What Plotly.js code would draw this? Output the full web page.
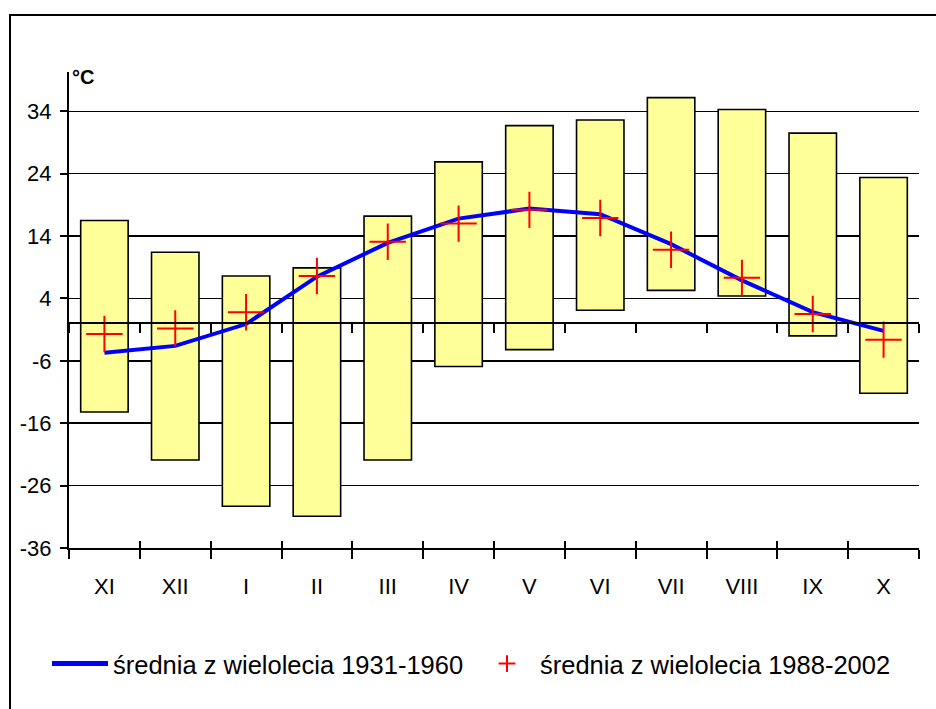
<!DOCTYPE html>
<html><head><meta charset="utf-8">
<script src="https://cdn.plot.ly/plotly-3.0.1.min.js"></script>
<style>
body{margin:0;background:#fff}
#wrap{position:relative;width:936px;height:709px;overflow:hidden}
#chart{width:936px;height:709px}
#frame{position:absolute;left:9px;top:14px;width:1000px;height:800px;border:2px solid #000;pointer-events:none;box-sizing:border-box}
</style>
</head><body>
<div id="wrap"><div id="chart"></div><div id="frame"></div></div>
<script>
const months = ['XI','XII','I','II','III','IV','V','VI','VII','VIII','IX','X'];
const tMax = [16.5, 11.4, 7.6, 8.9, 17.2, 25.9, 31.7, 32.6, 36.2, 34.3, 30.5, 23.4];
const tMin = [-14.2, -21.9, -29.3, -30.9, -21.9, -6.9, -4.2, 2.1, 5.3, 4.4, -2.0, -11.2];
const mean1931 = [-4.7, -3.6, -0.1, 7.5, 12.9, 16.8, 18.4, 17.5, 12.7, 6.9, 1.8, -1.2];
const mean1988 = [-1.7, -0.8, 1.8, 7.6, 13.1, 16.0, 18.2, 16.9, 11.8, 7.3, 1.5, -2.6];
const yTicks = [-36, -26, -16, -6, 4, 14, 24, 34];
const yRange = [-36, 40.3];
const legendNames = ['średnia z wielolecia 1931-1960', 'średnia z wielolecia 1988-2002'];

const FONT = 'Arial, "Liberation Sans", sans-serif';
const zeroPos = (0 - yRange[0]) / (yRange[1] - yRange[0]);

const traces = [
  {
    type: 'bar', x: months, y: tMax.map((v, i) => v - tMin[i]), base: tMin,
    xaxis: 'x', yaxis: 'y', width: 0.67,
    marker: {color: '#FFFF99', line: {color: '#000', width: 1.6}},
    showlegend: false, hoverinfo: 'skip'
  },
  {
    type: 'scatter', mode: 'lines', x: months, y: mean1931, name: legendNames[0],
    xaxis: 'x2', yaxis: 'y',
    line: {color: '#0000FF', width: 4}
  },
  {
    type: 'scatter', mode: 'markers', x: months, y: mean1988, name: legendNames[1],
    xaxis: 'x3', yaxis: 'y',
    marker: {symbol: 'cross-thin', size: 26, color: '#FF0000', line: {color: '#FF0000', width: 2}}
  }
];

const catAxis = {
  type: 'category', categoryarray: months, categoryorder: 'array',
  range: [-0.5, 11.5], fixedrange: true, showgrid: false, zeroline: false
};

const layout = {
  width: 936, height: 709,
  margin: {l: 69, r: 17, t: 72, b: 161},
  paper_bgcolor: '#fff', plot_bgcolor: 'rgba(0,0,0,0)',
  font: {family: FONT, color: '#000', size: 21},
  bargap: 0.33,
  xaxis: Object.assign({}, catAxis, {
    anchor: 'y', side: 'bottom',
    showline: true, linecolor: '#000', linewidth: 2,
    ticks: 'outside', tickson: 'boundaries', ticklen: 9, tickwidth: 2, tickcolor: '#000',
    tickfont: {family: FONT, size: 22, color: '#000'}, ticklabelstandoff: 18
  }),
  xaxis2: Object.assign({}, catAxis, {
    overlaying: 'x', anchor: 'free', position: zeroPos, side: 'bottom',
    showline: true, linecolor: '#000', linewidth: 2,
    ticks: 'outside', tickson: 'boundaries', ticklen: 9, tickwidth: 2, tickcolor: '#000',
    showticklabels: false
  }),
  xaxis3: Object.assign({}, catAxis, {
    overlaying: 'x', anchor: 'y', side: 'bottom',
    showline: false,
    ticks: 'inside', tickson: 'boundaries', ticklen: 7, tickwidth: 2, tickcolor: '#000',
    showticklabels: false
  }),
  yaxis: {
    range: yRange, fixedrange: true,
    tickmode: 'array', tickvals: yTicks, ticktext: yTicks.map(String),
    showgrid: true, gridcolor: '#000', gridwidth: 1.6,
    showline: true, linecolor: '#000', linewidth: 2,
    ticks: 'outside', ticklen: 7, tickwidth: 2, tickcolor: '#000',
    zeroline: false,
    tickfont: {family: FONT, size: 22, color: '#000'}, ticklabelstandoff: 4
  },
  legend: {
    orientation: 'h', xref: 'container', yref: 'container',
    x: 47 / 936, xanchor: 'left', y: 1 - 664 / 709, yanchor: 'middle',
    font: {family: FONT, size: 25.5, color: '#000'},
    itemwidth: 56, entrywidth: 356, entrywidthmode: 'pixels', itemsizing: 'constant',
    bgcolor: 'rgba(0,0,0,0)'
  },
  annotations: [{
    text: '<b>°C</b>', xref: 'paper', yref: 'paper', x: 0, y: 1,
    xanchor: 'left', yanchor: 'middle', xshift: 1, yshift: -5, showarrow: false,
    font: {family: FONT, size: 20, color: '#000'}
  }]
};

Plotly.newPlot('chart', traces, layout, {staticPlot: true, displayModeBar: false});
</script>
</body></html>
